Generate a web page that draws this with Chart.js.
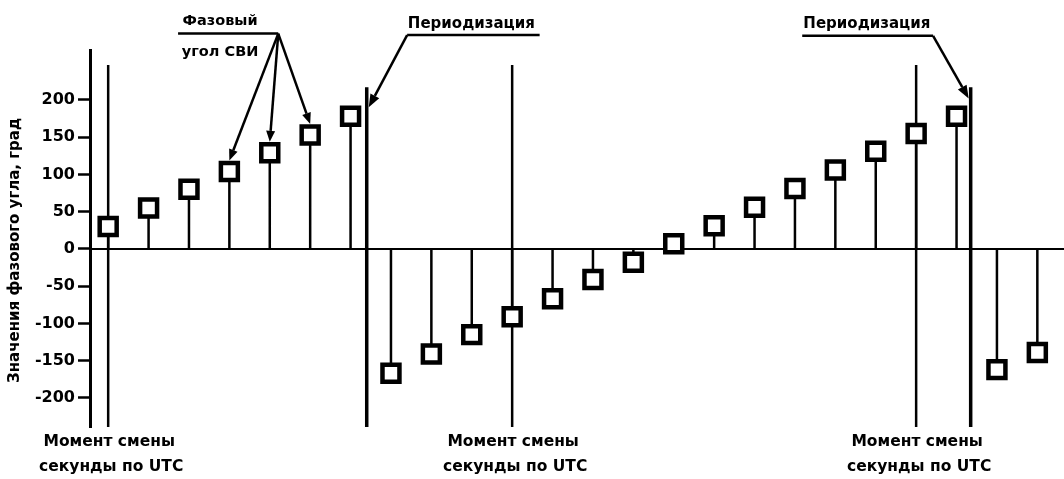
<!DOCTYPE html>
<html><head><meta charset="utf-8">
<script src="https://cdn.jsdelivr.net/npm/chart.js@4/dist/chart.umd.min.js"></script>
<style>html,body{margin:0;padding:0;background:#fff;overflow:hidden}#wrap{width:1064px;height:479px;position:relative}canvas{display:block}</style>
</head><body><div id="wrap"><canvas id="c"></canvas></div>
<script>
// ---- data ----
const sampleIndex = [0,1,2,3,4,5,6,7,8,9,10,11,12,13,14,15,16,17,18,19,20,21,22,23];
const phaseDeg = [30,55,80,104,129,153,178,-167,-141,-115,-91,-67,-41,-18,7,31,56,81,106,131,155,178,-162,-139];
const yTicks = [-200,-150,-100,-50,0,50,100,150,200];
const utcSecondMoments = [0,10,20];
const periodizationAt = [6.4,21.35];
const yTitle = 'Значения фазового угла, град';
const utcLabel = ['Момент смены','секунды по UTC'];
const svLabel = ['Фазовый','угол СВИ'];
const periodLabel = 'Периодизация';
const svArrowTargets = [3,4,5];

const Y_MIN = -239, Y_MAX = 267, X_MIN = -0.45, X_MAX = 23.66;
const MOMENT_TOP = 247, PERIOD_TOP = 217;
const FONT = '"DejaVu Sans", "Liberation Sans", sans-serif';

const stemData = [];
sampleIndex.forEach((x,i)=>{ stemData.push({x,y:0},{x,y:phaseDeg[i]},{x,y:null}); });
const momentData = [];
utcSecondMoments.forEach(x=>{ momentData.push({x,y:Y_MIN},{x,y:MOMENT_TOP},{x,y:null}); });
const periodData = [];
periodizationAt.forEach(x=>{ periodData.push({x,y:Y_MIN},{x,y:PERIOD_TOP},{x,y:null}); });
const zeroData = [{x:X_MIN,y:0},{x:X_MAX,y:0}];
const markerData = sampleIndex.map((x,i)=>({x,y:phaseDeg[i]}));

function arrow(ctx, x1, y1, x2, y2, len, wid){
  ctx.beginPath(); ctx.moveTo(x1,y1);
  const a = Math.atan2(y2-y1, x2-x1);
  const bx = x2 - Math.cos(a)*len, by = y2 - Math.sin(a)*len;
  ctx.lineTo(bx,by); ctx.stroke();
  ctx.beginPath();
  ctx.moveTo(x2,y2);
  ctx.lineTo(bx + Math.sin(a)*wid, by - Math.cos(a)*wid);
  ctx.lineTo(bx - Math.sin(a)*wid, by + Math.cos(a)*wid);
  ctx.closePath(); ctx.fill();
}

const annotations = {
  id: 'annotations',
  afterDraw(chart){
    const ctx = chart.ctx, xs = chart.scales.x, ys = chart.scales.y;
    const px = v => xs.getPixelForValue(v), py = v => ys.getPixelForValue(v);
    ctx.save();
    ctx.fillStyle = '#000'; ctx.strokeStyle = '#000';
    ctx.textAlign = 'center'; ctx.textBaseline = 'middle';
    // y axis title, centred on the zero line as in the reference
    ctx.save();
    ctx.translate(15, py(-2));
    ctx.rotate(-Math.PI/2);
    ctx.font = 'bold 15px ' + FONT;
    ctx.fillText(yTitle, 0, 0);
    ctx.restore();
    // bottom labels under UTC second moments
    ctx.font = 'bold 15.5px ' + FONT;
    utcSecondMoments.forEach(m=>{
      ctx.fillText(utcLabel[0], px(m)+1, chart.chartArea.bottom + 15);
      ctx.fillText(utcLabel[1], px(m)+3, chart.chartArea.bottom + 40);
    });
    // SV phase label
    ctx.font = 'bold 14.5px ' + FONT;
    const svx = px(2.77);
    ctx.fillText(svLabel[0], svx, py(305));
    ctx.fillText(svLabel[1], svx, py(264));
    ctx.lineWidth = 2.5;
    const ux1 = px(1.73), ux2 = px(4.21), uy = py(289);
    ctx.beginPath(); ctx.moveTo(ux1, uy); ctx.lineTo(ux2, uy); ctx.stroke();
    svArrowTargets.forEach(i=>{
      arrow(ctx, ux2, uy, px(i), py(phaseDeg[i]) - 11, 11, 4.5);
    });
    // periodization labels
    ctx.font = 'bold 15px ' + FONT;
    ctx.fillText(periodLabel, px(8.99), py(302));
    const p1a = px(7.4), p1b = px(10.68), p1y = py(287);
    ctx.beginPath(); ctx.moveTo(p1a,p1y); ctx.lineTo(p1b,p1y); ctx.stroke();
    arrow(ctx, p1a, p1y, px(periodizationAt[0]) + 2, py(190), 13, 5);
    ctx.fillText(periodLabel, px(18.78), py(302));
    const p2a = px(17.18), p2b = px(20.42), p2y = py(286);
    ctx.beginPath(); ctx.moveTo(p2a,p2y); ctx.lineTo(p2b,p2y); ctx.stroke();
    arrow(ctx, p2b, p2y, px(periodizationAt[1]) - 2, py(202), 13, 5);
    ctx.restore();
  }
};

new Chart(document.getElementById('c'), {
  type: 'scatter',
  data: { datasets: [
    { label:'markers', data: markerData, pointStyle:'rect', pointRadius:12, pointHoverRadius:12,
      pointBackgroundColor:'#fff', pointBorderColor:'#000', pointBorderWidth:4.5, showLine:false, order:0 },
    { label:'stems', data: stemData, showLine:true, spanGaps:false, borderColor:'#000', borderWidth:2.5, pointRadius:0, order:1 },
    { label:'moments', data: momentData, showLine:true, spanGaps:false, borderColor:'#000', borderWidth:2.5, pointRadius:0, order:2 },
    { label:'periodization', data: periodData, showLine:true, spanGaps:false, borderColor:'#000', borderWidth:3.5, pointRadius:0, order:3 },
    { label:'zero', data: zeroData, showLine:true, borderColor:'#000', borderWidth:2, pointRadius:0, order:4 }
  ]},
  options: {
    responsive:true, maintainAspectRatio:false, animation:false, devicePixelRatio:1,
    layout:{ autoPadding:false, padding:{ top:50, bottom:52, left:0, right:0 } },
    plugins:{ legend:{display:false}, tooltip:{enabled:false} },
    scales:{
      x:{ type:'linear', min:X_MIN, max:X_MAX, display:false },
      y:{ type:'linear', min:Y_MIN, max:Y_MAX,
        afterBuildTicks(s){ s.ticks = yTicks.map(v=>({value:v})); },
        afterFit(s){ s.width = 90; },
        grid:{ display:true, drawOnChartArea:false, drawTicks:true, tickLength:12, tickWidth:2.5, tickColor:'#000', color:'#000' },
        border:{ display:true, width:3, color:'#000' },
        ticks:{ color:'#000', padding:3, font:{ family:FONT, size:16, weight:'bold' } },
        title:{ display:false, text:yTitle }
      }
    }
  },
  plugins:[annotations]
});
</script></body></html>
